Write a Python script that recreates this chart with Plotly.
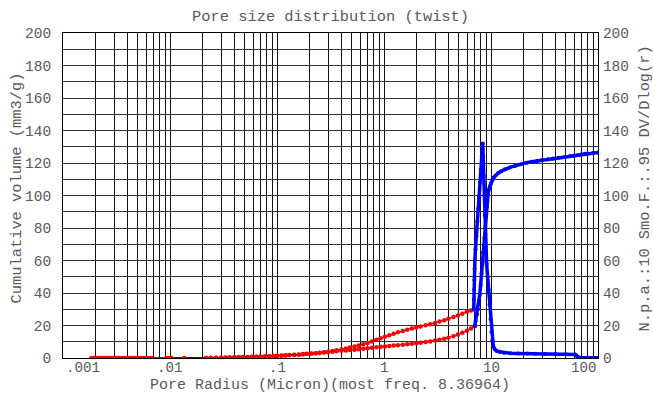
import math
import plotly.graph_objects as go

# ---- data -------------------------------------------------------------
# Differential distribution, fine pores (red points joined by a black line)
dist_fine_r = [0.0217, 0.024, 0.027, 0.030, 0.033, 0.036, 0.040, 0.044, 0.048, 0.053,
               0.058, 0.064, 0.070, 0.077, 0.085, 0.093, 0.10, 0.11, 0.12, 0.13,
               0.145, 0.16, 0.175, 0.19, 0.21, 0.23, 0.25, 0.275, 0.30, 0.33,
               0.36, 0.40, 0.44, 0.48, 0.53, 0.58, 0.64, 0.70, 0.77, 0.85,
               0.93, 1.02, 1.12, 1.23, 1.35, 1.50, 1.65, 1.82, 2.0, 2.2,
               2.45, 2.7, 3.0, 3.3, 3.65, 4.0, 4.45, 4.9, 5.4, 5.95, 6.5, 6.9]
dist_fine_v = [0.0, 0.1, 0.15, 0.2, 0.3, 0.35, 0.4, 0.5, 0.55, 0.6,
               0.7, 0.8, 0.9, 1.0, 1.1, 1.3, 1.4, 1.55, 1.7, 1.85,
               2.0, 2.2, 2.4, 2.55, 2.8, 3.0, 3.25, 3.55, 3.9, 4.3,
               4.7, 5.3, 5.9, 6.4, 7.1, 7.7, 8.5, 9.3, 10.2, 11.2,
               12.2, 13.1, 14.0, 14.9, 15.8, 16.6, 17.4, 18.1, 18.7, 19.4,
               20.1, 20.8, 21.6, 22.4, 23.3, 24.1, 25.2, 26.2, 27.3, 28.4, 29.3, 30.0]

# Cumulative volume, fine pores (red points joined by a blue line)
cum_fine_r = [0.00184, 0.00192, 0.0020, 0.0021, 0.0022, 0.0023, 0.0024, 0.0025, 0.0026,
              0.0027, 0.0028, 0.0029, 0.0030, 0.0031, 0.0032, 0.0034, 0.0036, 0.0038,
              0.0040, 0.0042, 0.0044, 0.0046, 0.0048, 0.0050, 0.0053, 0.0056, 0.0059,
              0.0062, 0.0065, 0.0069,
              0.0093, 0.0098, 0.0103, 0.0136,
              0.0217, 0.024, 0.027, 0.030, 0.033, 0.036, 0.040, 0.044, 0.048, 0.053,
              0.058, 0.064, 0.070, 0.077, 0.085, 0.093, 0.10, 0.11, 0.12, 0.13,
              0.145, 0.16, 0.175, 0.19, 0.21, 0.23, 0.25, 0.275, 0.30, 0.33,
              0.36, 0.40, 0.44, 0.48, 0.53, 0.58, 0.64, 0.70, 0.77, 0.85,
              0.93, 1.02, 1.12, 1.23, 1.35, 1.50, 1.65, 1.82, 2.0, 2.2,
              2.45, 2.7, 3.0, 3.3, 3.65, 4.0, 4.45, 4.9, 5.4, 5.95, 6.5, 7.04]
cum_fine_v = [0, 0, 0, 0, 0, 0, 0, 0, 0,
              0, 0, 0, 0, 0, 0, 0, 0, 0,
              0, 0, 0, 0, 0, 0, 0, 0, 0,
              0, 0, 0,
              0, 0, 0, 0,
              0.0, 0.05, 0.1, 0.15, 0.2, 0.25, 0.3, 0.4, 0.45, 0.5,
              0.6, 0.7, 0.8, 0.9, 1.0, 1.1, 1.2, 1.35, 1.5, 1.65,
              1.8, 2.0, 2.2, 2.4, 2.6, 2.85, 3.1, 3.35, 3.6, 3.85,
              4.1, 4.4, 4.65, 4.9, 5.15, 5.4, 5.7, 6.0, 6.3, 6.6,
              6.9, 7.15, 7.4, 7.65, 7.9, 8.2, 8.5, 8.8, 9.1, 9.4,
              9.8, 10.2, 10.7, 11.2, 11.8, 12.5, 13.4, 14.4, 15.5, 16.8, 18.2, 19.5]

# Cumulative volume, macropores (blue)
cum_macro_r = [7.04, 7.2, 7.4, 7.55, 7.68, 7.85, 8.0, 8.15, 8.3, 8.44,
               8.55, 8.68, 8.8, 8.94, 9.08, 9.2, 9.4, 9.6, 9.8, 10.0,
               10.3, 10.6, 11.0, 11.7, 12.5, 13.5, 15.0, 16.8, 19.0, 21.5,
               24.0, 27.0, 30.0, 34.0, 38.0, 43.0, 49.0, 55.0, 60.0, 65.0,
               70.0, 75.0, 80.0, 90.0, 100.0]
cum_macro_v = [19.5, 23, 27, 30, 33, 39, 45, 52, 59, 65,
               69, 74, 80, 87, 93, 97, 101, 104, 106, 107.5,
               109.5, 111, 112.3, 113.8, 115, 116.2, 117.3, 118.2, 119.3, 120.2,
               120.8, 121.3, 121.8, 122.3, 122.8, 123.3, 123.8, 124.3, 124.6, 125.0,
               125.4, 125.7, 125.9, 126.2, 126.5]

# Differential distribution, macropores (blue), peak at the most frequent radius
dist_macro_r = [6.9, 6.92, 6.95, 6.98, 7.02, 7.08, 7.16, 7.3, 7.45, 7.6,
                7.73, 7.9, 8.05, 8.2, 8.3, 8.36964, 8.45, 8.55, 8.65, 8.75,
                8.85, 8.95, 9.1, 9.3, 9.5, 9.7, 9.9, 10.1, 10.3, 10.5,
                10.8, 11.2, 12.0, 13.2, 15.2, 18.0, 22.0, 26.0, 32.0, 40.0,
                50.0, 61.0, 63.0, 65.0, 70.0, 80.0, 90.0, 100.0]
dist_macro_v = [30, 36, 42, 48, 55, 61, 67, 75, 84, 92,
                99, 108, 116, 124, 129, 132, 124, 112, 100, 88,
                76, 66, 58, 50, 42, 33, 24, 16, 11, 7.5,
                5.5, 4.5, 3.8, 3.3, 2.9, 2.8, 2.7, 2.6, 2.5, 2.4,
                2.3, 2.1, 1.5, 0.4, 0.2, 0.1, 0.1, 0.1]

x_tick_vals = [0.001, 0.01, 0.1, 1, 10, 100]
x_tick_text = [".001", ".01", ".1", "1", "10", "100"]
y_tick_vals = [0, 20, 40, 60, 80, 100, 120, 140, 160, 180, 200]

most_freq = 8.36964

# ---- styling ----------------------------------------------------------
FONT = "Liberation Mono, Courier New, monospace"
TXT = "#5a5a5a"
RED = "#ff0000"
BLUE = "#0000ff"

# plot-area geometry in pixels (used to place the free-standing texts)
PL, PR, PT, PB = 63, 598, 33, 358
PW, PH = PR - PL, PB - PT


def px_to_paper(px, py):
    return (px - PL) / PW, (PB - py) / PH


minor_x = [m * 10.0 ** e for e in range(-3, 2) for m in range(2, 10)]

fig = go.Figure()

fig.add_trace(go.Scatter(
    x=dist_fine_r, y=dist_fine_v, yaxis="y2", mode="lines+markers",
    line=dict(color="#000000", width=1),
    marker=dict(color=RED, size=4.5, line=dict(width=0)),
))
fig.add_trace(go.Scatter(
    x=cum_fine_r, y=cum_fine_v, mode="lines+markers",
    line=dict(color=BLUE, width=1),
    marker=dict(color=RED, size=4.5, line=dict(width=0)),
))
fig.add_trace(go.Scatter(
    x=cum_macro_r, y=cum_macro_v, mode="lines+markers",
    line=dict(color=BLUE, width=3.5),
    marker=dict(color=BLUE, size=4, line=dict(width=0)),
))
fig.add_trace(go.Scatter(
    x=dist_macro_r, y=dist_macro_v, yaxis="y2", mode="lines+markers",
    line=dict(color=BLUE, width=3.5),
    marker=dict(color=BLUE, size=4, line=dict(width=0)),
))

# x tick labels: the end labels are kept inside the plot width
_, tick_y = px_to_paper(0, 367.5)
x_labels = []
for i, (v, t) in enumerate(zip(x_tick_vals, x_tick_text)):
    if i == 0:
        anchor, shift = "left", 1.5
    elif i == len(x_tick_vals) - 1:
        anchor, shift = "right", 0
    else:
        anchor, shift = "center", 0
    x_labels.append(dict(
        text=t, xref="x", yref="paper", x=math.log10(v), y=tick_y,
        xanchor=anchor, yanchor="middle", xshift=shift, showarrow=False, borderpad=0,
        font=dict(family=FONT, size=14.2, color=TXT),
    ))

tx, ty = px_to_paper(330, 17)
xx, xy = px_to_paper(330, 385.5)
lx, ly = px_to_paper(16, 188.5)
rx, ry = px_to_paper(644, 188.5)

fig.update_layout(
    width=653, height=394,
    margin=dict(l=PL, r=653 - PR, t=PT, b=394 - PB, pad=0),
    paper_bgcolor="white", plot_bgcolor="white",
    showlegend=False,
    font=dict(family=FONT, size=14.5, color=TXT),
    xaxis=dict(
        type="log", range=[-3, 2], automargin=False,
        tickvals=x_tick_vals, showticklabels=False, ticks="",
        showgrid=True, gridcolor="#111111", gridwidth=1,
        minor=dict(tickvals=minor_x, showgrid=True, gridcolor="#111111", gridwidth=1, ticks=""),
        showline=True, linecolor="#000000", linewidth=1, mirror=True,
        zeroline=False,
    ),
    yaxis=dict(
        range=[0, 200], automargin=False,
        tickvals=y_tick_vals, ticks="outside", ticklen=8, tickcolor="rgba(0,0,0,0)",
        showgrid=True, gridcolor="#333333", gridwidth=1,
        minor=dict(dtick=10, showgrid=True, gridcolor="#333333", gridwidth=1, ticks=""),
        showline=True, linecolor="#000000", linewidth=1,
        zeroline=False, tickfont=dict(family=FONT, size=14.5, color=TXT),
    ),
    yaxis2=dict(
        range=[0, 200], overlaying="y", side="right", automargin=False,
        tickvals=y_tick_vals, ticks="outside", ticklen=1, tickcolor="rgba(0,0,0,0)",
        showgrid=False, showline=True, linecolor="#000000", linewidth=1,
        zeroline=False, tickfont=dict(family=FONT, size=14.5, color=TXT),
    ),
    annotations=x_labels + [
        dict(text="Pore size distribution (twist)", xref="paper", yref="paper",
             x=tx, y=ty, xanchor="center", yanchor="middle",
             showarrow=False, font=dict(family=FONT, size=15.4, color=TXT)),
        dict(text=f"Pore Radius (Micron)(most freq. {most_freq})", xref="paper", yref="paper",
             x=xx, y=xy, xanchor="center", yanchor="middle", borderpad=0,
             showarrow=False, font=dict(family=FONT, size=15.0, color=TXT)),
        dict(text="Cumulative volume (mm3/g)", xref="paper", yref="paper",
             x=lx, y=ly, xanchor="center", yanchor="middle",
             textangle=-90, showarrow=False, font=dict(family=FONT, size=15.4, color=TXT)),
        dict(text="N.p.a.:10 Smo.F.:.95 DV/Dlog(r)", xref="paper", yref="paper",
             x=rx, y=ry, xanchor="center", yanchor="middle",
             textangle=-90, showarrow=False, font=dict(family=FONT, size=15.4, color=TXT)),
    ],
)

fig.write_html("out.html")
